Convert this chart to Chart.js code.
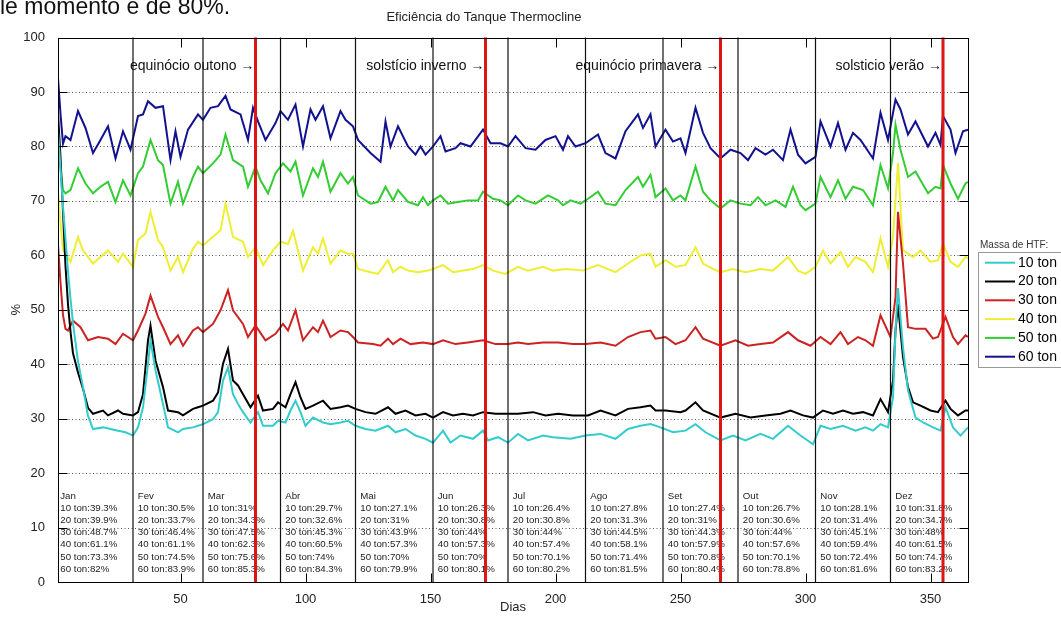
<!DOCTYPE html>
<html>
<head>
<meta charset="utf-8">
<title>Eficiência do Tanque Thermocline</title>
<script src="https://cdn.jsdelivr.net/npm/chart.js@4.4.1/dist/chart.umd.min.js"></script>
<style>
  body { margin: 0; background: #fff; }
  #wrap { position: relative; width: 1061px; height: 617px; overflow: hidden; }
  #topText { position: absolute; left: 0; top: -5.5px; font-family: 'Liberation Sans', Arial, sans-serif;
             font-size: 23px; line-height: 23px; color: #111; white-space: nowrap; }
  canvas { position: absolute; left: 0; top: 0; }
</style>
</head>
<body>
<div id="wrap">
  <canvas id="effChart" width="1061" height="617"></canvas>
  <div id="topText">le momento é de 80%.</div>
</div>
<script>
// ---- data ----
var days10 = [1,2,3,4,5,6,7,8,9,11,13,15,19,22,25,28,31,33,35,37,38,40,43,45,49,51,55,57,59,63,65,67,69,71,73,75,78,81,83,87,89,92,94,96,98,100,103,107,110,114,117,120,124,128,133,136,140,144,148,151,155,158,162,167,171,173,177,181,185,189,195,199,206,212,218,224,229,234,238,242,247,252,256,260,266,271,276,282,287,293,298,303,306,310,315,320,324,327,330,333,335,336,337,339,341,344,347,351,354,356,359,362,365];
var eff10  = [83,76,69,63,57,52,47.5,44,40.5,35.8,30.5,28.1,28.4,28.1,27.8,27.5,26.9,28.4,32.1,40.1,44.4,38.9,32.7,28.4,27.5,28.1,28.4,28.7,29,29.9,31.2,37,39.4,34.5,32.7,31.2,29.3,31.2,28.7,28.7,29.6,29.3,31.5,33.3,31.2,28.7,30.2,29.3,29,29.3,29.6,28.7,28.1,27.8,28.7,27.5,28.1,26.9,26.3,25.6,27.8,25.6,26.9,26.3,27.8,26,26.6,25.6,27.2,26,26.9,26.6,26.3,26.9,27.2,26.3,28.1,28.7,29,28.4,27.5,27.8,29,27.5,26,26.9,26,27.2,26.3,28.7,26.9,25.3,28.7,28.1,28.7,27.8,28.4,27.8,29,28.4,33.9,46.2,54,43.1,35.2,30.2,29.3,28.4,27.8,32.1,28.4,26.9,28.4];

var days20 = [1,2,3,4,5,6,7,9,11,13,15,19,21,25,27,31,33,35,37,38,40,43,45,49,51,55,57,59,63,65,67,69,71,73,75,78,81,83,87,89,92,94,96,98,100,103,107,110,114,117,120,124,128,133,136,140,144,148,151,155,159,163,167,171,176,181,185,191,196,201,207,213,218,224,229,234,238,240,244,250,252,256,259,266,272,278,284,290,294,299,303,307,311,315,319,323,327,330,333,335,336,337,339,341,343,346,350,353,356,358,361,364,365];
var eff20  = [86,78,68,58,51,46,42,38.5,35.5,32,30.9,31.5,30.6,31.5,30.9,30.6,31.2,34.5,44.4,47.1,40.7,35.8,31.5,31.2,30.6,31.8,32.1,32.4,33.3,34.8,40.1,42.8,37,36.1,34.5,32.1,34.2,31.5,31.8,33,32.1,34.5,36.7,33.9,31.8,32.4,33.3,31.8,32.1,32.4,31.8,31.2,30.9,32.1,30.9,31.5,30.6,30.9,30.2,31.2,30.6,30.9,30.6,31.2,30.9,30.9,30.9,31.2,30.6,30.9,30.6,30.6,31.5,30.6,31.8,32.1,32.4,31.5,31.5,31.2,31.5,33,31.5,30.2,30.9,30.2,30.6,30.9,31.5,30.6,30.2,31.5,30.9,31.5,30.9,31.2,30.6,33.6,31.2,37,46.2,51,41.3,35.8,33,32.4,31.5,31.2,33.3,31.8,30.6,31.5,31.5];

var days30 = [1,2,3,4,5,7,10,13,17,21,24,27,31,33,36,38,41,43,46,49,51,55,57,59,63,66,69,71,75,77,80,84,88,91,93,96,99,103,105,107,110,114,117,119,121,127,130,133,135,138,142,147,151,155,160,165,171,176,181,185,189,195,201,207,212,218,224,229,234,238,240,244,248,252,256,259,266,272,277,282,287,293,297,302,306,310,314,317,321,324,327,330,334,336,337,339,341,344,348,351,353,356,359,361,364,365];
var eff30  = [62,55,49,46.5,46.2,48,46.8,44.4,45,44.7,43.7,45.6,44.4,46.2,49.3,52.6,48.7,46.8,43.7,45.3,43.4,46.2,46.8,45.9,47.4,49.9,53.6,49.9,47.4,45,47.1,44.4,45.6,47.4,46.2,49.9,44.4,46.8,45.9,48,45,46.2,45.9,45,44,43.7,43.4,44.7,43.7,44.7,43.7,44,43.7,44.4,43.7,44,44.4,43.7,43.7,44,43.7,44,44,43.7,43.7,44,43.4,45,45.9,46.2,44.7,45,43.7,44.4,46.8,44.7,43.4,44.4,43.4,43.7,44,45.9,44.4,43.4,45,43.7,45.9,43.7,45,44.4,43.4,49,45,52.3,68,58.5,46.8,46.5,46.5,44.7,45,48.7,45,43.7,45.3,45];

var days40 = [1,2,3,4,6,9,11,15,18,21,25,27,31,33,36,38,41,43,46,49,51,55,57,59,63,66,68,71,75,77,80,83,87,90,93,95,99,103,105,107,110,114,117,119,121,126,129,133,135,138,141,145,149,151,155,159,163,167,171,175,180,185,189,195,199,204,211,217,224,229,234,238,240,244,248,252,256,259,263,266,271,276,282,287,293,297,300,304,307,310,314,317,320,324,327,330,333,335,337,339,343,346,350,353,355,358,361,364,365];
var eff40  = [72,66,61,60.3,58.8,63.4,60.9,58.5,59.7,60.9,58.8,60.3,57.9,62.8,64,68,62.8,61.5,57.2,59.7,56.9,61.2,62.5,61.8,63.4,64.6,69.5,63.4,62.5,59.7,61.5,58.2,60.9,62.5,62.1,64.5,57.2,61.5,60.3,63.1,58.5,60.9,60.3,60.3,57.5,56.9,56.6,59.1,56.9,57.9,57.2,56.9,57.2,57.5,58.2,56.9,57.2,57.5,58.2,57.2,56.6,57.9,57.2,57.9,57.2,57.5,57.2,58.2,56.9,58.5,60,60.3,57.9,59.1,57.9,58.2,61.5,58.5,57.5,56.9,57.5,56.9,57.5,57.2,59.7,57.2,56.6,57.9,60.9,58.5,60.6,57.9,59.7,58.8,56.9,63.1,57.9,63.4,77,60.9,59.7,60.9,58.8,59.1,62.1,58.8,57.9,59.7,59.5];

var days50 = [1,2,3,4,6,9,12,15,18,21,24,27,30,33,35,38,41,43,46,49,51,55,57,59,63,66,68,71,75,77,80,82,85,88,91,94,96,99,103,105,107,110,114,117,119,121,126,129,132,135,137,141,145,147,149,151,154,157,161,165,169,171,175,178,181,185,188,192,197,201,203,206,210,213,217,220,224,228,233,235,238,240,244,247,250,252,256,259,262,266,270,274,278,281,284,288,292,295,298,300,304,306,310,313,316,319,323,327,330,333,335,336,338,341,344,349,352,354,355,358,361,364,365];
var eff50  = [82,76,72,71.4,72,76,73.2,71.4,72.6,73.5,69.8,73.8,71,75.1,76.3,81.2,77.5,76.6,69.5,73.5,69.5,74.4,76.3,75.1,76.9,78.5,82.2,77.5,76.3,72.6,76.3,73.8,71.4,75.1,76.9,75.4,77.2,71,76,74.4,77.2,71.7,75.1,73.2,74.4,71,69.5,69.8,72.6,70.1,72,69.8,69.2,70.7,69.2,70.1,71,69.5,69.8,70.1,70.1,71.7,70.4,70.1,69.2,71,70.1,69.5,71,70.1,69.2,70.1,69.5,70.4,71.7,69.5,69.2,72,74.4,72.6,74.8,70.7,72.3,70.1,71,70.1,76.3,71.7,70.1,68.6,70.1,69.5,69.2,70.7,69.2,70.1,68.9,72.6,69.2,68.3,69.5,74.4,70.7,73.8,70.4,72.6,72,69.2,76.6,72.3,78.8,84,79.4,74.4,75.4,71.4,72.6,72.3,76.6,73.2,70.4,73.2,73.5];

var days60 = [1,2,3,4,6,9,12,15,18,21,24,27,30,33,35,37,40,43,46,48,50,53,57,59,62,65,68,70,74,77,79,81,84,88,90,93,96,99,102,104,107,110,114,116,119,121,126,130,132,134,137,141,144,146,148,151,154,156,160,162,166,171,174,178,181,184,188,192,196,200,203,205,208,212,217,220,224,228,233,235,238,240,244,247,250,252,256,259,262,266,270,274,277,280,284,287,291,294,297,300,304,306,310,313,316,319,322,327,330,333,336,338,341,344,349,352,354,355,358,360,363,365];
var eff60  = [92.5,86,80.5,81.9,81.2,86.5,83.4,78.8,81.2,83.7,77.8,82.8,79.4,85.6,85.9,88.3,87.1,87.4,77.5,82.8,78.1,83.1,85.9,84.9,87.1,87.4,89.3,86.8,85.9,81.2,87.1,84.6,81.2,84.3,86.5,84.9,87.7,80,86.8,84.9,87.4,81.5,86.5,84.9,83.7,81.2,78.8,77.2,84.6,80,83.7,80,78.5,80,78.5,80,81.9,79.1,79.7,80.6,80,83.1,80.6,80.6,80,81.9,79.7,79.4,81.2,81.9,79.4,81.9,80,80.6,82.2,78.8,77.8,82.8,85.9,83.4,85.9,80,83.1,80.9,81.5,78.8,87.1,82.5,79.7,77.8,79.4,78.8,77.5,79.7,78.5,79.4,77.5,83.1,78.5,76.9,78.1,84.6,80,84.3,79.4,82.5,81.2,77.8,86.2,81.2,88.6,86.8,82.2,84.6,80,82.5,80.3,85.6,83.1,78.8,82.8,83.1];

var seriesNames = ['10 ton', '20 ton', '30 ton', '40 ton', '50 ton', '60 ton'];
var seriesColors = ['#33cccc', '#000000', '#cc2222', '#eeee33', '#33cc33', '#12128f'];

// monthly averages printed at the bottom of each month
var monthNames = ['Jan', 'Fev', 'Mar', 'Abr', 'Mai', 'Jun', 'Jul', 'Ago', 'Set', 'Out', 'Nov', 'Dez'];
var monthStart = [0, 31, 59, 90, 120, 151, 181, 212, 243, 273, 304, 334];
var avg10 = [39.3, 30.5, 31, 29.7, 27.1, 26.3, 26.4, 27.8, 27.4, 26.7, 28.1, 31.8];
var avg20 = [39.9, 33.7, 34.3, 32.6, 31, 30.8, 30.8, 31.3, 31, 30.6, 31.4, 34.7];
var avg30 = [48.7, 46.4, 47.5, 45.3, 43.9, 44, 44, 44.5, 44.3, 44, 45.1, 48];
var avg40 = [61.1, 61.1, 62.3, 60.5, 57.3, 57.3, 57.4, 58.1, 57.9, 57.6, 59.4, 61.5];
var avg50 = [73.3, 74.5, 75.6, 74, 70, 70, 70.1, 71.4, 70.8, 70.1, 72.4, 74.7];
var avg60 = [82, 83.9, 85.3, 84.3, 79.9, 80.1, 80.2, 81.5, 80.4, 78.8, 81.6, 83.2];

// equinox / solstice markers
var seasonDays = [80, 172, 266, 355];
var seasonLabels = ['equinócio outono →', 'solstício inverno →', 'equinócio primavera →', 'solsticio verão →'];

var xTicks = [50, 100, 150, 200, 250, 300, 350];
// ------------------------------------

var FONT = "'Liberation Sans', Arial, Helvetica, sans-serif";
Chart.defaults.font.family = FONT;
Chart.defaults.color = '#222';

var allDays = [days10, days20, days30, days40, days50, days60];
var allEff = [eff10, eff20, eff30, eff40, eff50, eff60];
var allAvg = [avg10, avg20, avg30, avg40, avg50, avg60];

function toPoints(days, vals) {
  return days.map(function(d, i) { return {x: d, y: vals[i]}; });
}

var datasets = seriesNames.map(function(name, i) {
  return {
    label: name,
    data: toPoints(allDays[i], allEff[i]),
    borderColor: seriesColors[i],
    backgroundColor: seriesColors[i],
    borderWidth: 2,
    pointRadius: 0,
    tension: 0,
    fill: false
  };
});

// MATLAB-like decorations: dotted grid, box, inward ticks, month lines, texts, legend
var matlabLook = {
  id: 'matlabLook',
  beforeDatasetsDraw: function(chart) {
    var ctx = chart.ctx, a = chart.chartArea, y = chart.scales.y;
    ctx.save();
    ctx.strokeStyle = '#555';
    ctx.lineWidth = 1;
    ctx.setLineDash([1, 2.5]);
    y.ticks.forEach(function(t) {
      if (t.value <= 0 || t.value >= 100) return;
      var py = Math.round(y.getPixelForValue(t.value)) + 0.5;
      ctx.beginPath(); ctx.moveTo(a.left, py); ctx.lineTo(a.right, py); ctx.stroke();
    });
    ctx.restore();
  },
  afterDatasetsDraw: function(chart) {
    var ctx = chart.ctx, a = chart.chartArea, x = chart.scales.x, y = chart.scales.y;
    ctx.save();

    // month separators
    ctx.strokeStyle = '#111';
    ctx.lineWidth = 1.2;
    monthStart.slice(1).forEach(function(d) {
      var px = x.getPixelForValue(d);
      ctx.beginPath(); ctx.moveTo(px, a.top); ctx.lineTo(px, a.bottom); ctx.stroke();
    });

    // monthly averages
    ctx.fillStyle = '#222';
    ctx.font = '9.7px ' + FONT;
    ctx.textAlign = 'left';
    ctx.textBaseline = 'middle';
    var y0 = y.getPixelForValue(15.8);
    monthNames.forEach(function(m, k) {
      var px = x.getPixelForValue(monthStart[k] + 1.9);
      ctx.fillText(m, px, y0);
      for (var s = 0; s < 6; s++) {
        ctx.fillText(seriesNames[s] + ':' + allAvg[s][k] + '%', px, y0 + 12.2 * (s + 1));
      }
    });

    // equinox / solstice lines
    ctx.strokeStyle = '#dd1515';
    ctx.lineWidth = 3;
    seasonDays.forEach(function(d) {
      var px = x.getPixelForValue(d);
      ctx.beginPath(); ctx.moveTo(px, a.top); ctx.lineTo(px, a.bottom); ctx.stroke();
    });
    ctx.fillStyle = '#111';
    ctx.font = '14px ' + FONT;
    ctx.textAlign = 'right';
    seasonDays.forEach(function(d, k) {
      ctx.fillText(seasonLabels[k], x.getPixelForValue(d) - 1, y.getPixelForValue(94.8));
    });

    // box and inward ticks
    var L = Math.round(a.left) + 0.5, R = Math.round(a.right) + 0.5;
    var T = Math.round(a.top) + 0.5, B = Math.round(a.bottom) + 0.5;
    ctx.strokeStyle = '#000';
    ctx.lineWidth = 1;
    ctx.strokeRect(L, T, R - L, B - T);
    ctx.beginPath();
    y.ticks.forEach(function(t) {
      var py = Math.round(y.getPixelForValue(t.value)) + 0.5;
      ctx.moveTo(L, py); ctx.lineTo(L + 9, py);
      ctx.moveTo(R, py); ctx.lineTo(R - 9, py);
    });
    xTicks.forEach(function(v) {
      var px = Math.round(x.getPixelForValue(v)) + 0.5;
      ctx.moveTo(px, B); ctx.lineTo(px, B - 9);
      ctx.moveTo(px, T); ctx.lineTo(px, T + 9);
    });
    ctx.stroke();

    // legend
    ctx.strokeStyle = '#999';
    ctx.strokeRect(978.5, 252.5, 100, 115);
    ctx.fillStyle = '#333';
    ctx.font = '10px ' + FONT;
    ctx.textAlign = 'left';
    ctx.fillText('Massa de HTF:', 980, 245);
    ctx.font = '14px ' + FONT;
    seriesNames.forEach(function(name, i) {
      var ry = 262.7 + 18.8 * i;
      ctx.strokeStyle = seriesColors[i];
      ctx.lineWidth = 2;
      ctx.beginPath(); ctx.moveTo(985, ry); ctx.lineTo(1015, ry); ctx.stroke();
      ctx.fillStyle = '#000';
      ctx.fillText(name, 1018, ry);
    });

    ctx.restore();
  }
};

var ctx = document.getElementById('effChart');
var effChart = new Chart(ctx, {
  type: 'line',
  data: { datasets: datasets },
  options: {
    responsive: false,
    animation: false,
    events: [],
    layout: { padding: { left: 0, right: 93, top: 0, bottom: 0 } },
    plugins: {
      legend: { display: false },
      tooltip: { enabled: false },
      title: {
        display: true,
        text: 'Eficiência do Tanque Thermocline',
        color: '#222',
        font: { size: 13, weight: 'normal' },
        padding: { top: 10, bottom: 12 }
      }
    },
    scales: {
      x: {
        type: 'linear',
        min: 1,
        max: 365,
        afterBuildTicks: function(s) { s.ticks = xTicks.map(function(v) { return {value: v}; }); },
        afterFit: function(s) { s.height = 35; },
        grid: { display: false },
        border: { display: false },
        ticks: { font: { size: 13 }, color: '#222', padding: 2, maxRotation: 0 },
        title: { display: true, text: 'Dias', font: { size: 13 }, color: '#222', padding: { top: 0, bottom: 2 } }
      },
      y: {
        min: 0,
        max: 100,
        afterFit: function(s) { s.width = 58; },
        grid: { display: false },
        border: { display: false },
        ticks: { stepSize: 10, font: { size: 13 }, color: '#222', padding: 5 },
        title: { display: true, text: '%', font: { size: 13 }, color: '#222', padding: { top: 9, bottom: 0 } }
      }
    }
  },
  plugins: [matlabLook]
});
</script>
</body>
</html>
